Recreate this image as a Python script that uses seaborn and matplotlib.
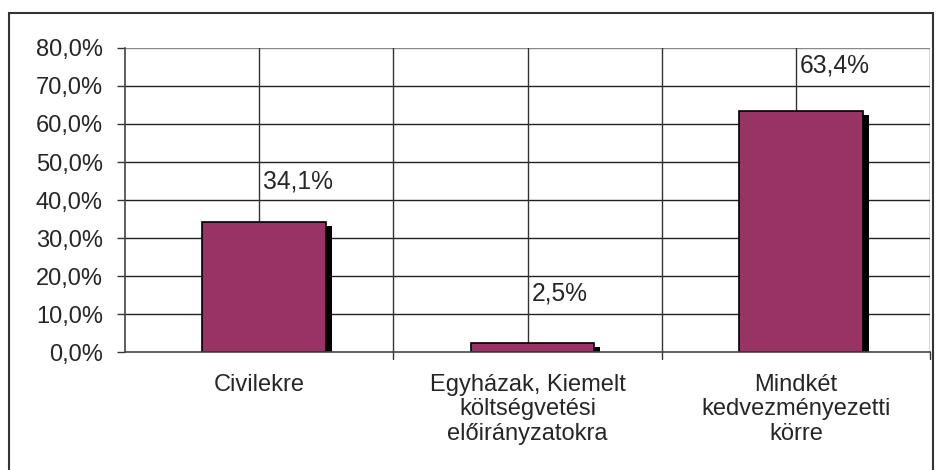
import matplotlib
matplotlib.use("Agg")
import matplotlib.pyplot as plt
import matplotlib.transforms as mtrans
import seaborn as sns
import pandas as pd
from matplotlib.patches import Rectangle

categories = ["Civilekre", "Egyházak, Kiemelt\nköltségvetési\nelőirányzatokra", "Mindkét\nkedvezményezetti\nkörre"]
values = [34.1, 2.5, 63.4]
value_labels = ["34,1%", "2,5%", "63,4%"]
yticks = [0, 10, 20, 30, 40, 50, 60, 70, 80]
ytick_labels = ["0,0%", "10,0%", "20,0%", "30,0%", "40,0%", "50,0%", "60,0%", "70,0%", "80,0%"]

sns.set_style("white")
plt.rcParams["font.family"] = ["Liberation Sans", "DejaVu Sans"]
FS = 17

fig = plt.figure(figsize=(9.36, 4.70), dpi=100)
ax = fig.add_axes([125/936, 118/470, (930-125)/936, (352-48)/470])

df = pd.DataFrame({"cat": categories, "val": values})
bar_color = "#993366"

# shadow bars
sns.barplot(data=df, x="cat", y="val", color="black", width=0.46, ax=ax,
            saturation=1, zorder=2)
shadow = list(ax.patches)
off_shadow = mtrans.ScaledTranslation(11/100, -4/100, fig.dpi_scale_trans)
for p in shadow:
    p.set_transform(ax.transData + off_shadow)
    p.set_edgecolor("none")
sns.barplot(data=df, x="cat", y="val", color=bar_color, width=0.46, ax=ax,
            saturation=1, edgecolor="black", linewidth=1.2, zorder=3)
off_bar = mtrans.ScaledTranslation(5/100, 0, fig.dpi_scale_trans)
for p in ax.patches:
    if p not in shadow:
        p.set_transform(ax.transData + off_bar)

ax.set_ylim(0, 80)
ax.set_xlim(-0.5, 2.5)
ax.set_yticks(yticks)
ax.set_yticklabels(ytick_labels, fontsize=FS)
ax.set_xticks(range(len(categories)))
ax.set_xticklabels(categories, fontsize=FS, linespacing=1.13)
ax.tick_params(axis="x", length=0, pad=16)
ax.tick_params(axis="y", direction="out", length=6, width=1, color="#333333", pad=10, left=True)
ax.set_xlabel("")
ax.set_ylabel("")

# grid lines
for y in yticks[1:]:
    ax.axhline(y, color="#222222" if y < 80 else "#888888", lw=1, zorder=1)
for x in [0, 1, 2]:
    ax.axvline(x, color="#333333", lw=1, zorder=1)
for x in [0.5, 1.5, 2.5]:
    ax.axvline(x, color="#333333", lw=1, zorder=1)
    ax.plot([x, x], [0, -1.8], color="#333333", lw=1, clip_on=False, zorder=1)

for s in ["top", "right"]:
    ax.spines[s].set_visible(False)
ax.spines["left"].set_color("#444444")
ax.spines["left"].set_linewidth(1.2)
ax.spines["bottom"].set_color("#444444")
ax.spines["bottom"].set_linewidth(1.2)
ax.spines["bottom"].set_zorder(4)

label_y = [45.0, 15.5, 75.3]
txt_off = mtrans.ScaledTranslation(4/100, 0, fig.dpi_scale_trans)
for i, (v, t) in enumerate(zip(values, value_labels)):
    ax.text(i, label_y[i], t, ha="left", va="center", fontsize=FS + 0.7,
            zorder=5, transform=ax.transData + txt_off)

# outer frame
fig.patches.append(Rectangle((9/936, -0.01), (933-9)/936, (470-13)/470 + 0.01,
                             transform=fig.transFigure, fill=False,
                             edgecolor="#333333", lw=1.5))

fig.savefig("out.png", dpi=100)
